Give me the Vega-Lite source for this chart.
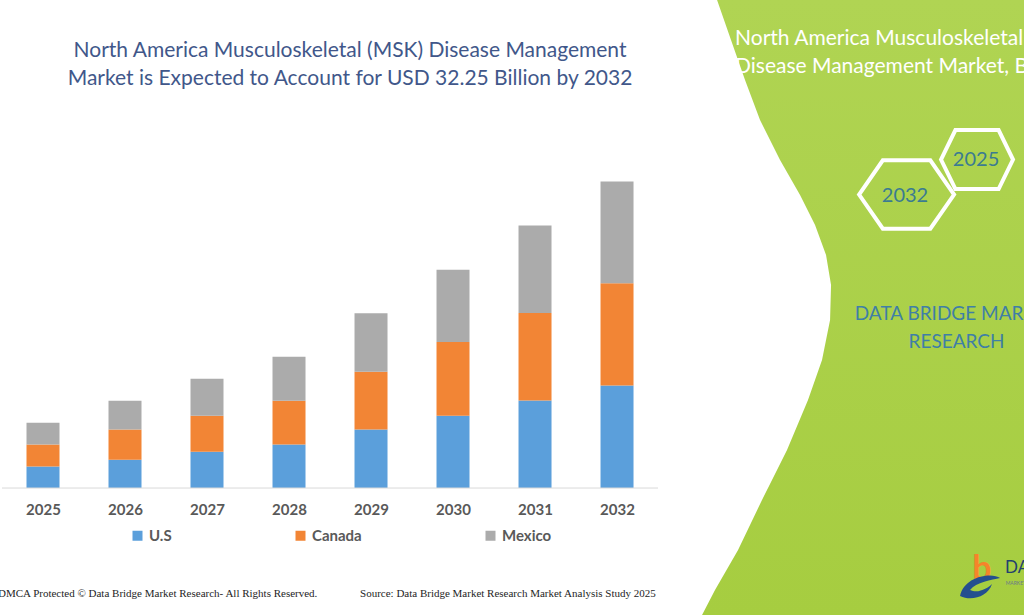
{
  "$schema": "https://vega.github.io/schema/vega-lite/v6.json",
  "width": 1024,
  "height": 615,
  "autosize": {"type": "none"},
  "padding": 0,
  "background": "white",
  "config": {
    "view": {"stroke": null},
    "font": "Lato",
    "scale": {"continuousPadding": 0},
    "axisY": {"disable": true},
    "axisX": {
      "domain": false,
      "ticks": false,
      "tickSize": 0,
      "grid": false,
      "labelPadding": 14,
      "labelFontSize": 15,
      "labelFontWeight": "bold",
      "labelColor": "#595959",
      "labelFont": "Lato"
    }
  },
  "datasets": {
    "market": [
      {"year": 2025, "country": "U.S", "value": 2.27},
      {"year": 2025, "country": "Canada", "value": 2.31},
      {"year": 2025, "country": "Mexico", "value": 2.29},
      {"year": 2026, "country": "U.S", "value": 2.98},
      {"year": 2026, "country": "Canada", "value": 3.19},
      {"year": 2026, "country": "Mexico", "value": 3.02},
      {"year": 2027, "country": "U.S", "value": 3.82},
      {"year": 2027, "country": "Canada", "value": 3.79},
      {"year": 2027, "country": "Mexico", "value": 3.89},
      {"year": 2028, "country": "U.S", "value": 4.59},
      {"year": 2028, "country": "Canada", "value": 4.6},
      {"year": 2028, "country": "Mexico", "value": 4.63},
      {"year": 2029, "country": "U.S", "value": 6.17},
      {"year": 2029, "country": "Canada", "value": 6.07},
      {"year": 2029, "country": "Mexico", "value": 6.14},
      {"year": 2030, "country": "U.S", "value": 7.61},
      {"year": 2030, "country": "Canada", "value": 7.76},
      {"year": 2030, "country": "Mexico", "value": 7.61},
      {"year": 2031, "country": "U.S", "value": 9.22},
      {"year": 2031, "country": "Canada", "value": 9.2},
      {"year": 2031, "country": "Mexico", "value": 9.19},
      {"year": 2032, "country": "U.S", "value": 10.8},
      {"year": 2032, "country": "Canada", "value": 10.74},
      {"year": 2032, "country": "Mexico", "value": 10.71}
    ],
    "panelEdge": [
      {"ex": 2033.22, "ey": 51.35},
      {"ex": 2033.39, "ey": 47.14},
      {"ex": 2033.561, "ey": 42.93},
      {"ex": 2033.744, "ey": 38.72},
      {"ex": 2033.988, "ey": 34.51},
      {"ex": 2034.232, "ey": 30.83},
      {"ex": 2034.415, "ey": 27.67},
      {"ex": 2034.549, "ey": 24.52},
      {"ex": 2034.61, "ey": 21.36},
      {"ex": 2034.598, "ey": 17.68},
      {"ex": 2034.5, "ey": 13.47},
      {"ex": 2034.329, "ey": 9.26},
      {"ex": 2034.073, "ey": 4.0},
      {"ex": 2033.768, "ey": -1.26},
      {"ex": 2033.476, "ey": -6.52},
      {"ex": 2033.195, "ey": -10.73},
      {"ex": 2033.037, "ey": -13.36}
    ]
  },
  "layer": [
    {
      "data": {"name": "panelEdge"},
      "mark": {
        "type": "area",
        "orient": "horizontal",
        "color": {
          "gradient": "linear",
          "x1": 0, "y1": 0, "x2": 0, "y2": 1,
          "stops": [
            {"offset": 0, "color": "#b0d453"},
            {"offset": 1, "color": "#a6cd40"}
          ]
        }
      },
      "encoding": {
        "x": {"field": "ex", "type": "quantitative", "scale": {"domain": [2024.4756, 2036.963], "nice": false, "zero": false, "padding": 0}},
        "x2": {"datum": 2036.963},
        "y": {"field": "ey", "type": "quantitative", "scale": {"domain": [-13.36, 51.35], "nice": false, "zero": false, "padding": 0}}
      }
    },
    {
      "data": {"name": "market"},
      "transform": [
        {"calculate": "indexof(['U.S', 'Canada', 'Mexico'], datum.country)", "as": "stackRank"}
      ],
      "mark": {"type": "bar", "size": 33},
      "encoding": {
        "x": {
          "field": "year",
          "type": "quantitative",
          "scale": {"domain": [2024.4756, 2036.963], "nice": false, "zero": false, "padding": 0},
          "axis": {
            "orient": "bottom",
            "offset": -127,
            "values": [2025, 2026, 2027, 2028, 2029, 2030, 2031, 2032],
            "format": "d",
            "title": null
          }
        },
        "y": {
          "field": "value",
          "type": "quantitative",
          "stack": "zero",
          "scale": {"domain": [-13.36, 51.35], "nice": false, "zero": false, "padding": 0}
        },
        "color": {
          "field": "country",
          "type": "nominal",
          "scale": {"domain": ["U.S", "Canada", "Mexico"], "range": ["#5b9fdb", "#f28535", "#ababab"]},
          "legend": {
            "orient": "none",
            "legendX": 130,
            "legendY": 528,
            "direction": "horizontal",
            "title": null,
            "symbolType": "square",
            "symbolSize": 100,
            "symbolStrokeWidth": 0,
            "labelFontSize": 15,
            "labelFontWeight": "bold",
            "labelColor": "#595959",
            "labelFont": "Lato",
            "labelOffset": 4,
            "columnPadding": 121
          }
        },
        "order": {"field": "stackRank", "type": "quantitative", "sort": "ascending"}
      }
    },
    {
      "data": {"values": [{}]},
      "mark": {"type": "rule", "color": "#d9d9d9", "strokeWidth": 1},
      "encoding": {
        "x": {"datum": 2024.5, "type": "quantitative"},
        "x2": {"datum": 2032.5},
        "y": {"datum": 0, "type": "quantitative"}
      }
    },
    {
      "data": {"values": [{}]},
      "mark": {"type": "text", "align": "center", "baseline": "alphabetic", "fontSize": 21, "lineHeight": 28, "color": "#41578a"},
      "encoding": {
        "x": {"datum": 2028.744, "type": "quantitative"},
        "y": {"datum": 45.35, "type": "quantitative"},
        "text": {"value": ["North America Musculoskeletal (MSK) Disease Management", "Market is Expected to Account for USD 32.25 Billion by 2032"]}
      }
    },
    {
      "data": {"values": [{}]},
      "mark": {"type": "text", "align": "left", "baseline": "alphabetic", "fontSize": 21, "lineHeight": 28, "color": "white", "clip": true},
      "encoding": {
        "x": {"datum": 2033.439, "type": "quantitative"},
        "y": {"datum": 46.61, "type": "quantitative"},
        "text": {"value": ["North America Musculoskeletal (MSK)", "Disease Management Market, By Country"]}
      }
    },
    {
      "data": {"values": [{}]},
      "mark": {
        "type": "point",
        "shape": "M -1 0 L -0.5 -0.72 L 0.5 -0.72 L 1 0 L 0.5 0.72 L -0.5 0.72 Z",
        "size": 9025,
        "filled": false,
        "stroke": "white",
        "strokeWidth": 4,
        "opacity": 1
      },
      "encoding": {
        "x": {"datum": 2035.531, "type": "quantitative"},
        "y": {"datum": 30.88, "type": "quantitative"}
      }
    },
    {
      "data": {"values": [{}]},
      "mark": {
        "type": "point",
        "shape": "M -1 0 L -0.6 -0.82 L 0.6 -0.82 L 1 0 L 0.6 0.82 L -0.6 0.82 Z",
        "size": 5184,
        "filled": false,
        "stroke": "white",
        "strokeWidth": 4,
        "opacity": 1,
        "clip": true
      },
      "encoding": {
        "x": {"datum": 2036.39, "type": "quantitative"},
        "y": {"datum": 34.56, "type": "quantitative"}
      }
    },
    {
      "data": {"values": [{}]},
      "mark": {"type": "text", "align": "center", "baseline": "middle", "fontSize": 20, "color": "#3b7b91"},
      "encoding": {
        "x": {"datum": 2035.512, "type": "quantitative"},
        "y": {"datum": 30.72, "type": "quantitative"},
        "text": {"value": "2032"}
      }
    },
    {
      "data": {"values": [{}]},
      "mark": {"type": "text", "align": "center", "baseline": "middle", "fontSize": 20, "color": "#3b7b91", "clip": true},
      "encoding": {
        "x": {"datum": 2036.378, "type": "quantitative"},
        "y": {"datum": 34.56, "type": "quantitative"},
        "text": {"value": "2025"}
      }
    },
    {
      "data": {"values": [{}]},
      "mark": {"type": "text", "align": "center", "baseline": "alphabetic", "fontSize": 19, "lineHeight": 28, "color": "#3f7fa6", "clip": true},
      "encoding": {
        "x": {"datum": 2036.14, "type": "quantitative"},
        "y": {"datum": 17.68, "type": "quantitative"},
        "text": {"value": ["DATA BRIDGE MARKET", "RESEARCH"]}
      }
    },
    {
      "data": {"values": [{}]},
      "mark": {"type": "text", "align": "center", "baseline": "alphabetic", "fontSize": 34, "fontWeight": "bold", "color": "#f5842a"},
      "encoding": {
        "x": {"datum": 2036.451, "type": "quantitative"},
        "y": {"datum": -9.68, "type": "quantitative"},
        "text": {"value": "b"}
      }
    },
    {
      "data": {"values": [{}]},
      "mark": {
        "type": "point",
        "shape": "M -1 0.5 C -0.8 -0.5 0.6 -0.7 1 -0.4 C 0.6 -0.3 -0.2 -0.2 -0.5 0.2 C -0.1 0.4 0.4 0.1 0.6 -0.1 C 0.4 0.5 -0.4 0.8 -1 0.5 Z",
        "size": 1600,
        "filled": true,
        "color": "#244f8f",
        "opacity": 1
      },
      "encoding": {
        "x": {"datum": 2036.427, "type": "quantitative"},
        "y": {"datum": -10.31, "type": "quantitative"}
      }
    },
    {
      "data": {"values": [{}]},
      "mark": {"type": "text", "align": "left", "baseline": "alphabetic", "fontSize": 17, "color": "#23406e", "clip": true},
      "encoding": {
        "x": {"datum": 2036.732, "type": "quantitative"},
        "y": {"datum": -8.94, "type": "quantitative"},
        "text": {"value": "DATA BRIDGE"}
      }
    },
    {
      "data": {"values": [{}]},
      "mark": {"type": "text", "align": "left", "baseline": "alphabetic", "fontSize": 5, "letterSpacing": 3, "color": "#6b7a8a", "clip": true},
      "encoding": {
        "x": {"datum": 2036.74, "type": "quantitative"},
        "y": {"datum": -10.21, "type": "quantitative"},
        "text": {"value": "MARKET RESEARCH"}
      }
    },
    {
      "data": {"values": [{}]},
      "mark": {"type": "text", "align": "left", "baseline": "alphabetic", "fontSize": 11, "font": "Liberation Serif", "color": "#1e1e1e", "clip": true},
      "encoding": {
        "x": {"datum": 2024.4512, "type": "quantitative"},
        "y": {"datum": -11.47, "type": "quantitative"},
        "text": {"value": "DMCA Protected © Data Bridge Market Research-  All Rights Reserved."}
      }
    },
    {
      "data": {"values": [{}]},
      "mark": {"type": "text", "align": "left", "baseline": "alphabetic", "fontSize": 11, "font": "Liberation Serif", "color": "#1e1e1e"},
      "encoding": {
        "x": {"datum": 2028.866, "type": "quantitative"},
        "y": {"datum": -11.47, "type": "quantitative"},
        "text": {"value": "Source: Data Bridge Market Research  Market Analysis Study 2025"}
      }
    }
  ]
}
